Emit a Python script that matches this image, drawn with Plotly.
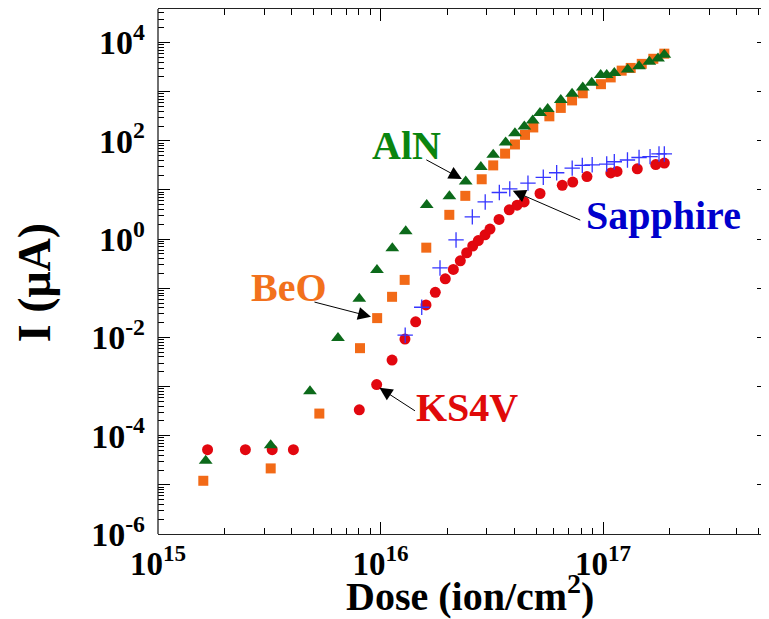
import numpy as np
import plotly.graph_objects as go

# ---- data (dose in ion/cm^2, current in uA) ----
ks4v_dose = [1.67e15, 2.47e15, 3.26e15, 4.06e15, 8.03e15, 9.61e15, 1.127e16, 1.288e16,
             1.439e16, 1.601e16, 1.763e16, 1.955e16, 2.125e16, 2.284e16, 2.44e16, 2.597e16,
             2.752e16, 2.95e16, 3.105e16, 3.41e16, 3.79e16, 4.11e16, 4.42e16, 5.21e16,
             6.56e16, 7.31e16, 8.47e16, 1.084e17, 1.156e17, 1.426e17, 1.726e17, 1.886e17]
ks4v_i = [5.2e-5, 5.2e-5, 5.2e-5, 5.2e-5, 3.37e-4, 1.10e-3, 3.46e-3, 9.27e-3,
          2.08e-2, 4.58e-2, 8.26e-2, 0.156, 0.242, 0.361, 0.528, 0.724,
          0.935, 1.22, 1.60, 2.52, 3.95, 4.90, 5.70, 8.47,
          12.4, 14.5, 18.7, 22.2, 23.8, 26.9, 32.9, 35.3]

sapphire_dose = [1.291e16, 1.532e16, 1.851e16, 2.185e16, 2.586e16, 2.955e16, 3.42e16,
                 3.81e16, 4.60e16, 5.39e16, 6.19e16, 7.27e16, 8.07e16, 8.94e16,
                 1.039e17, 1.124e17, 1.288e17, 1.452e17, 1.627e17, 1.785e17, 1.886e17]
sapphire_i = [1.11e-2, 4.11e-2, 0.259, 0.962, 2.83, 5.70, 8.87,
              10.5, 13.8, 18.1, 22.4, 27.8, 31.6, 32.5,
              33.7, 37.5, 40.7, 45.8, 47.6, 54.1, 54.1]

beo_dose = [1.598e15, 3.21e15, 5.31e15, 8.09e15, 9.66e15, 1.127e16, 1.284e16, 1.606e16,
            2.038e16, 2.405e16, 2.85e16, 3.21e16, 3.63e16, 4.02e16, 4.46e16, 4.86e16,
            5.74e16, 6.46e16, 7.26e16, 8.11e16, 9.79e16, 1.083e17, 1.213e17, 1.332e17,
            1.493e17, 1.683e17, 1.886e17]
beo_i = [1.21e-5, 2.16e-5, 2.82e-4, 6.04e-3, 2.47e-2, 6.70e-2, 0.148, 0.670,
         3.12, 7.59, 16.5, 31.6, 54.9, 84.3, 132, 187,
         315, 467, 664, 927, 1420, 1950, 2680, 3040,
         3680, 4670, 5930]

aln_dose = [1.638e15, 3.21e15, 4.82e15, 6.44e15, 8.03e15, 9.64e15, 1.13e16, 1.298e16,
            1.613e16, 2.04e16, 2.415e16, 2.824e16, 3.21e16, 3.65e16, 4.02e16, 4.43e16,
            4.83e16, 5.21e16, 5.64e16, 6.46e16, 7.26e16, 8.11e16, 8.90e16, 9.76e16,
            1.039e17, 1.124e17, 1.291e17, 1.452e17, 1.615e17, 1.767e17, 1.886e17]
aln_i = [3.08e-5, 6.37e-5, 8.04e-4, 9.72e-3, 6.15e-2, 0.235, 0.649, 1.44,
         4.94, 7.45, 14.8, 29.2, 52.1, 92.7, 142, 195,
         260, 368, 445, 674, 909, 1210, 1510, 2180,
         2180, 2400, 2810, 3290, 4050, 4740, 5650]

x_major_exp = [15, 16, 17]
y_major_exp = list(range(-6, 5))
y_label_exp = [-6, -4, -2, 0, 2, 4]

# label text, label centre (data units), arrow head (data units), tail offset (px), colour
labels = [
    ("AlN", 1.31e16, 81.0, 2.32e16, 16.7, -37, -20, "#0a850f"),
    ("BeO", 3.88e15, 0.1014, 9.06e15, 2.64e-2, -58, -15, "#f2711c"),
    ("KS4V", 2.45e16, 3.75e-4, 9.89e15, 9.44e-4, 37, 24, "#e00a0a"),
    ("Sapphire", 1.876e17, 2.97, 3.93e16, 9.62, 69, 30, "#0000cc"),
]

FONT = "Liberation Serif, Times New Roman, serif"

fig = go.Figure()
fig.add_trace(go.Scatter(x=ks4v_dose, y=ks4v_i, mode="markers", name="KS4V",
                         marker=dict(symbol="circle", size=11, color="#e2070f")))
fig.add_trace(go.Scatter(x=beo_dose, y=beo_i, mode="markers", name="BeO",
                         marker=dict(symbol="square", size=10, color="#f26a17")))
fig.add_trace(go.Scatter(x=sapphire_dose, y=sapphire_i, mode="markers", name="Sapphire",
                         marker=dict(symbol="cross-thin", size=11,
                                     line=dict(color="#3535ff", width=1.3))))
fig.add_trace(go.Scatter(x=aln_dose, y=aln_i, mode="markers", name="AlN",
                         marker=dict(symbol="triangle-up", size=12, color="#0c6a1a")))

for text, lx, ly, hx, hy, ax, ay, col in labels:
    fig.add_annotation(x=np.log10(lx), y=np.log10(ly), text=text, showarrow=False,
                       xanchor="center", yanchor="middle",
                       font=dict(family=FONT, size=40, color=col, weight="bold"))
    fig.add_annotation(x=np.log10(hx), y=np.log10(hy), text="", showarrow=True,
                       ax=ax, ay=ay, arrowhead=2, arrowsize=2.6, arrowwidth=1,
                       arrowcolor="black", standoff=0, startstandoff=0)

# axis titles
fig.add_annotation(xref="paper", yref="paper", x=0.5106, y=-0.1656,
                   xanchor="center", yanchor="bottom", showarrow=False,
                   text="Dose (ion/cm<sup>2</sup>)",
                   font=dict(family=FONT, size=40, weight="bold", color="black"))
fig.add_annotation(xref="paper", yref="paper", x=-0.2021, y=0.4787,
                   xanchor="center", yanchor="middle", showarrow=False,
                   text="I (μA)", textangle=-90,
                   font=dict(family=FONT, size=46, weight="bold", color="black"))

x_minor = [k * 10.0 ** e for e in x_major_exp for k in range(2, 10)]
y_minor = [k * 10.0 ** e for e in y_major_exp for k in range(2, 10)]

# the page body adds an 8 px offset, so the figure is 8 px smaller than the window
fig.update_layout(
    width=761, height=611,
    margin=dict(l=150, r=0, t=1, b=85, autoexpand=False),
    paper_bgcolor="white", plot_bgcolor="white",
    showlegend=False,
    font=dict(family=FONT, color="black"),
    xaxis=dict(
        type="log", range=[15, 17.746], automargin=False,
        tickmode="array",
        tickvals=[10.0 ** e for e in x_major_exp],
        ticktext=[f"10<sup>{e}</sup>" for e in x_major_exp],
        ticks="inside", ticklen=12, tickwidth=1, tickcolor="black",
        showline=True, linecolor="#222", linewidth=1.3, mirror="ticks",
        showgrid=False, zeroline=False,
        tickfont=dict(family=FONT, size=33, weight="bold", color="black"),
        minor=dict(tickmode="array", tickvals=x_minor, ticks="inside", ticklen=6,
                   tickwidth=1, tickcolor="black", showgrid=False),
    ),
    yaxis=dict(
        type="log", range=[-6, 4.682], automargin=False,
        tickmode="array",
        tickvals=[10.0 ** e for e in y_major_exp],
        ticktext=[(f"10<sup>{e}</sup>" if e in y_label_exp else "") for e in y_major_exp],
        ticks="inside", ticklen=12, tickwidth=1, tickcolor="black",
        ticklabelstandoff=12,
        showline=False, mirror="ticks",
        showgrid=False, zeroline=False,
        tickfont=dict(family=FONT, size=34, weight="bold", color="black"),
        minor=dict(tickmode="array", tickvals=y_minor, ticks="inside", ticklen=6,
                   tickwidth=1, tickcolor="black", showgrid=False),
    ),
    shapes=[dict(type="line", xref="paper", yref="paper", x0=0, x1=0, y0=0, y1=1,
                 line=dict(color="#222", width=1.3))],
)

fig.write_html("out.html")
